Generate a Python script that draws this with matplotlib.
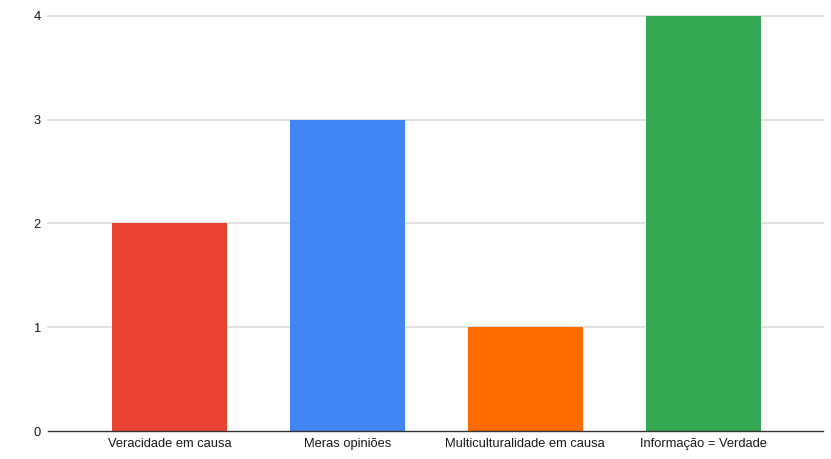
import matplotlib
matplotlib.use("Agg")
import matplotlib.pyplot as plt

categories = ["Veracidade em causa", "Meras opiniões", "Multiculturalidade em causa", "Informação = Verdade"]
values = [2, 3, 1, 4]
colors = ["#EA4335", "#4285F4", "#FF6D01", "#34A853"]
yticks = [0, 1, 2, 3, 4]

plt.rcParams["font.family"] = ["Liberation Sans", "DejaVu Sans"]

fig = plt.figure(figsize=(8.31, 4.59), dpi=100)
ax = fig.add_axes([48 / 831, 1 - 431 / 459, 775 / 831, 415 / 459])

x = list(range(len(categories)))
ax.bar(x, values, width=0.646, color=colors, zorder=3)

ax.set_xlim(-0.683, 3.674)
ax.set_ylim(0, 4)
ax.set_yticks(yticks)
ax.set_xticks(x)
ax.set_xticklabels(categories, fontsize=9.3, color="#1a1a1a")
ax.set_yticklabels([str(v) for v in yticks], fontsize=9.3, color="#1a1a1a")

for v in yticks[1:]:
    ax.axhline(v, color="#DADADA", linewidth=1.2, zorder=1, clip_on=False)

for s in ["top", "right", "left"]:
    ax.spines[s].set_visible(False)
ax.spines["bottom"].set_color("#333333")
ax.spines["bottom"].set_linewidth(1.0)
ax.spines["bottom"].set_zorder(4)
ax.tick_params(axis="both", length=0)
ax.tick_params(axis="y", pad=5)
ax.tick_params(axis="x", pad=5)

fig.savefig("out.png", dpi=100)
